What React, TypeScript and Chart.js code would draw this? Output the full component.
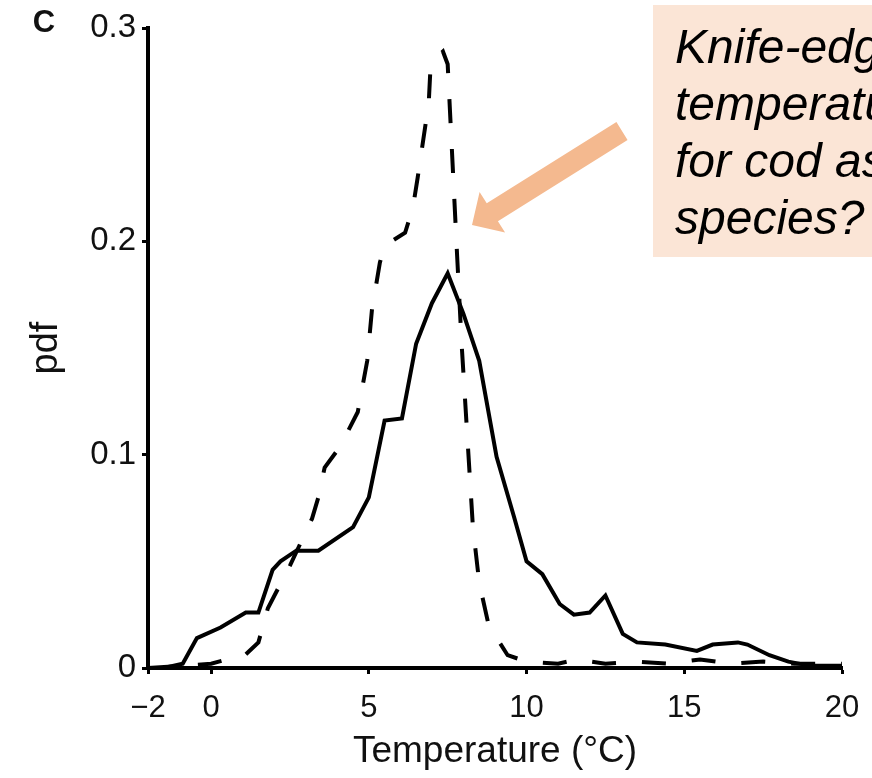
import React, { useEffect, useRef } from "react";
import { Chart, registerables } from "chart.js";

Chart.register(...registerables);

// Temperature (°C) and pdf values
const solidTemp = [-2, -1.5, -0.9, -0.45, 0.3, 1.1, 1.5, 1.95, 2.2, 2.7, 3.4, 4.5, 5.0, 5.5, 6.05, 6.5, 7.0, 7.5, 8.0, 8.5, 9.05, 9.6, 10.0, 10.5, 11.05, 11.5, 12.0, 12.5, 13.05, 13.5, 14.4, 15.4, 15.9, 16.7, 17.0, 17.7, 18.3, 19.0, 20.0];
const solidPdf = [0, 0, 0.002, 0.014, 0.019, 0.026, 0.026, 0.046, 0.05, 0.055, 0.055, 0.066, 0.08, 0.116, 0.117, 0.152, 0.171, 0.185, 0.166, 0.144, 0.099, 0.071, 0.05, 0.044, 0.03, 0.025, 0.026, 0.034, 0.016, 0.012, 0.011, 0.008, 0.011, 0.012, 0.011, 0.006, 0.003, 0.001, 0.001];

const dashedTemp = [-2, 0, 0.5, 1.0, 1.5, 1.8, 2.5, 3.2, 3.4, 3.6, 4.1, 4.65, 4.95, 5.1, 5.35, 5.5, 6.15, 6.4, 6.55, 6.9, 6.95, 7.05, 7.35, 7.5, 7.8, 7.95, 8.3, 8.5, 8.8, 9.4, 10, 11, 11.6, 12.5, 13.5, 14.5, 15.5, 16.5, 17.5, 18.5, 20];
const dashedPdf = [0, 0.002, 0.004, 0.005, 0.012, 0.028, 0.048, 0.07, 0.08, 0.094, 0.104, 0.12, 0.144, 0.168, 0.19, 0.198, 0.204, 0.216, 0.23, 0.265, 0.28, 0.285, 0.289, 0.283, 0.193, 0.15, 0.066, 0.04, 0.02, 0.006, 0.003, 0.002, 0.004, 0.002, 0.003, 0.002, 0.004, 0.002, 0.003, 0.002, 0.002];

const xTickValues = [-2, 0, 5, 10, 15, 20];
const yTickValues = [0, 0.1, 0.2, 0.3];

const xTitle = "Temperature (°C)";
const yTitle = "pdf";
const panelLabel = "C";
const noteLines = ["Knife-edge", "temperature", "for cod as", "species?"];

const FONT = "'Liberation Sans', Arial, Helvetica, sans-serif";

const overlayPlugin = {
  id: "overlay",
  afterDraw(chart: any) {
    const ctx = chart.ctx as CanvasRenderingContext2D;
    ctx.save();
    // panel label
    ctx.fillStyle = "#111";
    ctx.font = `bold 31px ${FONT}`;
    ctx.textAlign = "center";
    ctx.textBaseline = "middle";
    ctx.fillText(panelLabel, 44, 23);

    // note box
    ctx.fillStyle = "#FBE5D6";
    ctx.fillRect(653, 5, 872 - 653, 252);
    ctx.fillStyle = "#000";
    ctx.font = `italic 48px ${FONT}`;
    ctx.textAlign = "left";
    ctx.textBaseline = "alphabetic";
    const baselines = [63, 120, 177, 234];
    noteLines.forEach((t, i) => ctx.fillText(t, 675, baselines[i]));

    // arrow
    const tail = { x: 622, y: 131 };
    const tip = { x: 472, y: 225 };
    const dx = tip.x - tail.x;
    const dy = tip.y - tail.y;
    const len = Math.hypot(dx, dy);
    const ux = dx / len, uy = dy / len;
    const nx = -uy, ny = ux;
    const headLen = 24, headHalf = 24, shaftHalf = 10.5;
    const bx = tip.x - ux * headLen, by = tip.y - uy * headLen;
    ctx.fillStyle = "#F4B98F";
    ctx.beginPath();
    ctx.moveTo(tail.x + nx * shaftHalf, tail.y + ny * shaftHalf);
    ctx.lineTo(bx + nx * shaftHalf, by + ny * shaftHalf);
    ctx.lineTo(bx + nx * headHalf, by + ny * headHalf);
    ctx.lineTo(tip.x, tip.y);
    ctx.lineTo(bx - nx * headHalf, by - ny * headHalf);
    ctx.lineTo(bx - nx * shaftHalf, by - ny * shaftHalf);
    ctx.lineTo(tail.x - nx * shaftHalf, tail.y - ny * shaftHalf);
    ctx.closePath();
    ctx.fill();
    ctx.restore();
  },
};

export default function App() {
  const ref = useRef<HTMLCanvasElement | null>(null);

  useEffect(() => {
    if (!ref.current) return;
    const solid = solidTemp.map((x, i) => ({ x, y: solidPdf[i] }));
    const dashed = dashedTemp.map((x, i) => ({ x, y: dashedPdf[i] }));
    const chart = new Chart(ref.current, {
      type: "line",
      data: {
        datasets: [
          {
            data: dashed,
            borderColor: "#000",
            borderWidth: 4,
            borderDash: [24, 26],
            pointRadius: 0,
            tension: 0,
            fill: false,
          },
          {
            data: solid,
            borderColor: "#000",
            borderWidth: 4,
            pointRadius: 0,
            tension: 0,
            fill: false,
          },
        ],
      },
      options: {
        animation: false,
        responsive: false,
        maintainAspectRatio: false,
        layout: { padding: { top: 28, right: 30, left: 0, bottom: 0 } },
        plugins: {
          legend: { display: false },
          tooltip: { enabled: false },
        },
        scales: {
          x: {
            type: "linear",
            min: -2,
            max: 20,
            afterBuildTicks: (s: any) => {
              s.ticks = xTickValues.map((v) => ({ value: v }));
            },
            afterFit: (s: any) => {
              s.height = 110;
              s.paddingLeft = 0;
              s.paddingRight = 0;
            },
            ticks: {
              autoSkip: false,
              maxRotation: 0,
              padding: 16,
              color: "#111",
              font: { size: 31, family: FONT },
              callback: (v: any) => (v < 0 ? "\u2212" + Math.abs(v) : String(v)),
            },
            grid: {
              display: true,
              drawOnChartArea: false,
              drawTicks: true,
              tickLength: 6,
              tickWidth: 3,
              color: "#000",
            },
            border: { display: true, color: "#000", width: 4 },
            title: {
              display: true,
              text: xTitle,
              color: "#111",
              font: { size: 37, family: FONT },
              padding: { top: 0, bottom: 4 },
            },
          },
          y: {
            type: "linear",
            min: 0,
            max: 0.3,
            afterBuildTicks: (s: any) => {
              s.ticks = yTickValues.map((v) => ({ value: v }));
            },
            afterFit: (s: any) => {
              s.width = 148;
              s.paddingTop = 0;
              s.paddingBottom = 0;
            },
            ticks: {
              autoSkip: false,
              padding: 6,
              color: "#111",
              font: { size: 33, family: FONT },
              callback: (v: any) => (v === 0 ? "0" : Number(v).toFixed(1)),
            },
            grid: {
              display: true,
              drawOnChartArea: false,
              drawTicks: true,
              tickLength: 6,
              tickWidth: 3,
              color: "#000",
            },
            border: { display: true, color: "#000", width: 4 },
            title: {
              display: true,
              text: yTitle,
              color: "#111",
              font: { size: 38, family: FONT },
              padding: { top: 24, bottom: 0 },
            },
          },
        },
      },
      plugins: [overlayPlugin],
    });
    return () => chart.destroy();
  }, []);

  return (
    <div style={{ position: "absolute", left: 0, top: 0, width: 872, height: 778, background: "#fff" }}>
      <canvas ref={ref} width={872} height={778} style={{ width: 872, height: 778, display: "block" }} />
    </div>
  );
}
